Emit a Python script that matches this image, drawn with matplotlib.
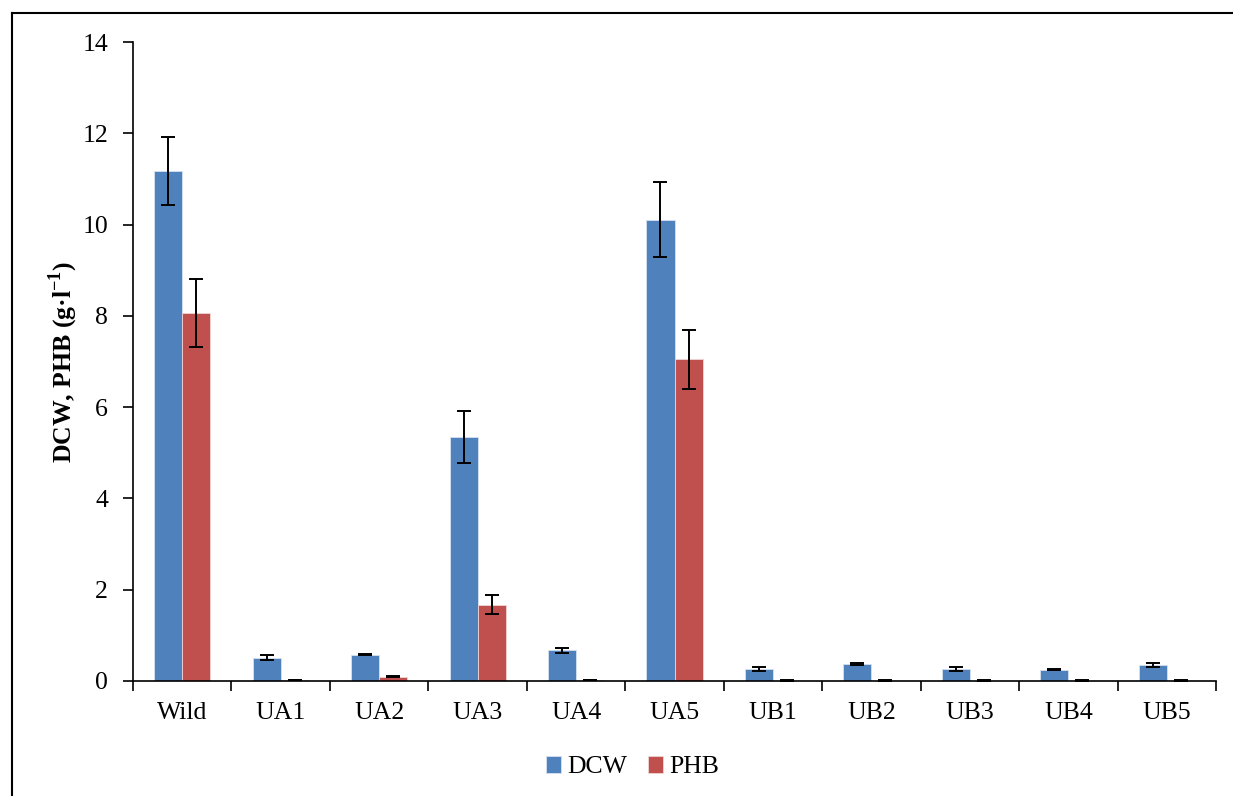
import numpy as np
import matplotlib
matplotlib.use("Agg")
import matplotlib.pyplot as plt
from matplotlib.lines import Line2D

plt.rcParams['font.family'] = ['Liberation Serif', 'DejaVu Serif']
plt.rcParams['mathtext.fontset'] = 'custom'
plt.rcParams['mathtext.rm'] = 'Liberation Serif'
plt.rcParams['mathtext.bf'] = 'Liberation Serif:bold'

# strains and measured values (g/l)
strains = ["Wild", "UA1", "UA2", "UA3", "UA4", "UA5", "UB1", "UB2", "UB3", "UB4", "UB5"]
dcw = [11.18, 0.51, 0.58, 5.35, 0.67, 10.11, 0.26, 0.37, 0.26, 0.25, 0.35]
dcw_err = [0.74, 0.05, 0.02, 0.57, 0.05, 0.82, 0.04, 0.03, 0.05, 0.02, 0.04]
phb = [8.06, 0.02, 0.09, 1.67, 0.02, 7.05, 0.01, 0.01, 0.01, 0.01, 0.01]
phb_err = [0.75, 0.005, 0.01, 0.21, 0.005, 0.65, 0.002, 0.002, 0.002, 0.002, 0.002]

fig = plt.figure(figsize=(12.33, 7.96), dpi=100)
ax = fig.add_axes([0.1079, 0.1445, 0.8783, 0.8027])

x = np.arange(len(strains))
w = 0.285
err_kw = dict(ecolor='black', elinewidth=1.4, capsize=4.7, capthick=1.4)
ax.bar(x - w / 2, dcw, w, yerr=dcw_err, color='#4F81BD', edgecolor='#D6E1F0',
       linewidth=0.6, label='DCW', error_kw=err_kw)
ax.bar(x + w / 2, phb, w, yerr=phb_err, color='#C0504D', edgecolor='#F0D6D5',
       linewidth=0.6, label='PHB', error_kw=err_kw)

ax.set_xlim(-0.5, len(strains) - 0.5)
ax.set_ylim(0, 14)
ax.set_yticks(np.arange(0, 15, 2))
ax.set_xticks(x)
ax.set_xticklabels(strains)
ax.set_xticks(np.arange(-0.5, len(strains)), minor=True)
ax.tick_params(axis='x', which='major', length=0, pad=15, labelsize=18.5)
ax.tick_params(axis='x', which='minor', length=7, width=1.2, direction='out')
ax.tick_params(axis='y', length=7, width=1.2, direction='out', pad=11, labelsize=18.5)

for side in ['top', 'right']:
    ax.spines[side].set_visible(False)
for side in ['left', 'bottom']:
    ax.spines[side].set_linewidth(1.2)

ax.set_ylabel(r"DCW, PHB (g·l$^{\mathbf{-1}}$)", fontsize=18.5, fontweight='bold', labelpad=2)

ax.legend(loc='center', bbox_to_anchor=(0.513, 0.036), bbox_transform=fig.transFigure,
          ncol=2, frameon=False, fontsize=18.5, handlelength=0.6, handleheight=0.6,
          handletextpad=0.25, columnspacing=0.8)

# outer frame (left and top edges)
fig.add_artist(Line2D([12 / 1233, 12 / 1233], [0, 1 - 13 / 796], transform=fig.transFigure,
                      color='black', linewidth=1.5))
fig.add_artist(Line2D([12 / 1233, 1232 / 1233], [1 - 13 / 796, 1 - 13 / 796],
                      transform=fig.transFigure, color='black', linewidth=1.5))

fig.savefig("out.png", dpi=100)
